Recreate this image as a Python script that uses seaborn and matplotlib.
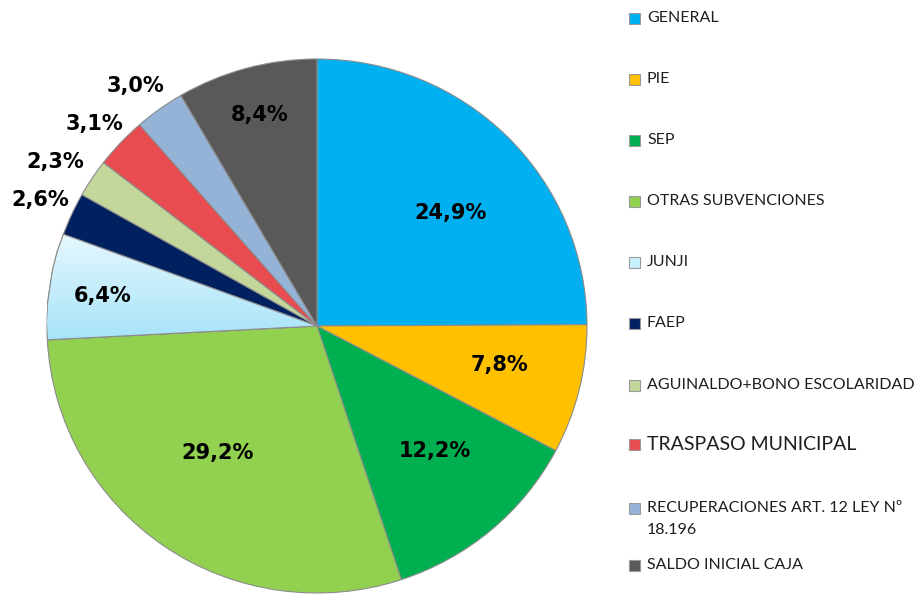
import numpy as np
import matplotlib
matplotlib.use("Agg")
import matplotlib.pyplot as plt
from matplotlib.patches import Rectangle
from matplotlib.colors import LinearSegmentedColormap
import seaborn as sns

# ---- data ----
categories = ["GENERAL", "PIE", "SEP", "OTRAS SUBVENCIONES", "JUNJI", "FAEP",
              "AGUINALDO+BONO ESCOLARIDAD", "TRASPASO MUNICIPAL",
              "RECUPERACIONES ART. 12 LEY Nº\n18.196", "SALDO INICIAL CAJA"]
values = [24.9, 7.8, 12.2, 29.2, 6.4, 2.6, 2.3, 3.1, 3.0, 8.4]
colors = ["#00B0F0", "#FFC000", "#00B050", "#92D050", "#C8F0FC", "#002060",
          "#C4D79B", "#E84C50", "#95B3D7", "#595959"]

# label placement style (radius factor, angle tweak in degrees)
label_style = [(0.649, -4.6), (0.693, 1.7), (0.639, 2.8), (0.602, -3.3), (0.80, 0.6),
               (1.127, 0.0), (1.148, 1.3), (1.12, 0.8), (1.123, 1.1), (0.819, 0.0)]

sns.set_theme(style="white")
plt.rcParams["font.family"] = ["DejaVu Sans"]

W, H = 924, 595
fig = plt.figure(figsize=(W / 100, H / 100), dpi=100)
fig.patch.set_facecolor("white")

cx, cy, Rx, Ry = 317, 326, 270, 267
ax = fig.add_axes([(cx - Rx) / W, (H - cy - Ry) / H, 2 * Rx / W, 2 * Ry / H])
wedges, _ = ax.pie(values, colors=sns.color_palette(colors), startangle=90,
                   counterclock=False, radius=1,
                   wedgeprops=dict(edgecolor="#8C8C8C", linewidth=0.8))
ax.set_xlim(-1, 1)
ax.set_ylim(-1, 1)
ax.set_aspect("auto")
ax.axis("off")
for w in wedges:
    w.set_clip_on(False)

# light gradient on the JUNJI slice
jw = wedges[categories.index("JUNJI")]
grad_cmap = LinearSegmentedColormap.from_list("junji", ["#A4E3F9", "#E6F8FE"])
img = ax.imshow(np.linspace(0, 1, 256).reshape(-1, 1), cmap=grad_cmap,
                origin="lower", extent=[-1.0, 0.0, -0.07, 0.35], aspect="auto",
                zorder=jw.get_zorder() + 0.01)
img.set_clip_path(jw)
ax.add_patch(plt.Polygon(jw.get_path().vertices, closed=True, fill=False,
                         edgecolor="#8C8C8C", linewidth=0.8,
                         transform=ax.transData, zorder=jw.get_zorder() + 0.02))
ax.set_xlim(-1, 1)
ax.set_ylim(-1, 1)

for w, v, (d, da) in zip(wedges, values, label_style):
    mid = np.deg2rad((w.theta1 + w.theta2) / 2 + da)
    ax.text(d * np.cos(mid), d * np.sin(mid), f"{v:.1f}%".replace(".", ","),
            ha="center", va="center", fontsize=15, fontweight="bold",
            color="black", family="DejaVu Sans", zorder=10)

# ---- legend (manual layout) ----
row_y = [18, 79, 140, 201, 262, 323, 385, 444, 508, 565]
for cat, col, y in zip(categories, colors, row_y):
    size = 14 if cat.startswith("TRASPASO") else 11.5
    fig.patches.append(Rectangle((629 / W, 1 - (y + 6) / H), 11 / W, 11 / H,
                                 transform=fig.transFigure, facecolor=col,
                                 edgecolor="#9A9A9A", linewidth=0.8))
    lines = cat.split("\n")
    for i, ln in enumerate(lines):
        fig.text(647 / W, 1 - (y + i * 22) / H, ln, ha="left", va="center",
                 fontsize=size, family="Lato", color="#1E1E1E")

fig.savefig("out.png", dpi=100, facecolor="white")
